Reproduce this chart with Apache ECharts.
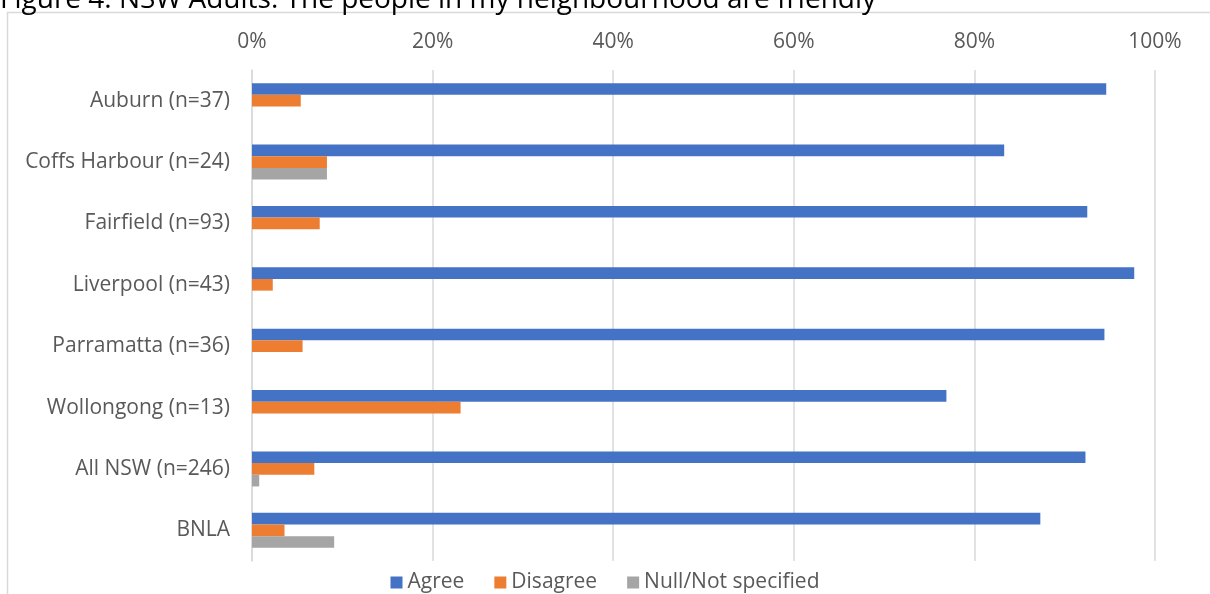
<!DOCTYPE html>
<html>
<head>
<meta charset="utf-8">
<script src="https://cdn.jsdelivr.net/npm/echarts@6/dist/echarts.min.js"></script>
<style>
html,body{margin:0;padding:0;background:#fff;}
#chart{width:1210px;height:594px;}
</style>
</head>
<body>
<div id="chart"></div>
<script>
const titleText = 'Figure 4: NSW Adults: The people in my neighbourhood are friendly';
const categories = ['Auburn (n=37)', 'Coffs Harbour (n=24)', 'Fairfield (n=93)', 'Liverpool (n=43)', 'Parramatta (n=36)', 'Wollongong (n=13)', 'All NSW (n=246)', 'BNLA'];
const agree = [0.946, 0.833, 0.925, 0.977, 0.944, 0.769, 0.923, 0.873];
const disagree = [0.054, 0.083, 0.075, 0.023, 0.056, 0.231, 0.069, 0.036];
const nullNotSpecified = [0, 0.083, 0, 0, 0, 0, 0.008, 0.091];
const seriesNames = ['Agree', 'Disagree', 'Null/Not specified'];
const tickFormatter = v => Math.round(v * 100) + '%';

const FONT = 'Open Sans';
const chart = echarts.init(document.getElementById('chart'));
const mk = (name, data, color) => ({
  name, type: 'bar', data, barGap: '0%', barCategoryGap: '43%',
  itemStyle: { color }, emphasis: { disabled: true }
});
chart.setOption({
  animation: false,
  textStyle: { fontFamily: FONT },
  graphic: [
    { type: 'rect', shape: { x: 7.5, y: 12.5, width: 1400, height: 800 }, style: { fill: 'none', stroke: '#d9d9d9', lineWidth: 1.5 }, silent: true },
    { type: 'text', left: 0, top: -14, style: { text: titleText, font: '28px ' + FONT, fill: '#000' } }
  ],
  grid: { left: 252, right: 55, top: 70, bottom: 33, containLabel: false },
  legend: {
    bottom: -4, left: 'center', itemWidth: 12, itemHeight: 12, itemGap: 30,
    icon: 'rect',
    textStyle: { fontSize: 21, color: '#595959', fontFamily: FONT },
    data: seriesNames
  },
  xAxis: {
    type: 'value', position: 'top', min: 0, max: 1, interval: 0.2,
    axisLine: { show: false }, axisTick: { show: false },
    axisLabel: { formatter: tickFormatter, fontSize: 21, color: '#595959', margin: 17, fontFamily: FONT },
    splitLine: { lineStyle: { color: '#d9d9d9', width: 1.5 } }
  },
  yAxis: {
    type: 'category', data: categories, inverse: true,
    axisLine: { lineStyle: { color: '#d9d9d9', width: 1.5 } }, axisTick: { show: false },
    axisLabel: { fontSize: 21, color: '#595959', margin: 22, fontFamily: FONT, padding: [4, 0, 0, 0] }
  },
  series: [
    mk(seriesNames[0], agree, '#4472C4'),
    mk(seriesNames[1], disagree, '#ED7D31'),
    mk(seriesNames[2], nullNotSpecified, '#A5A5A5')
  ]
});
</script>
</body>
</html>
